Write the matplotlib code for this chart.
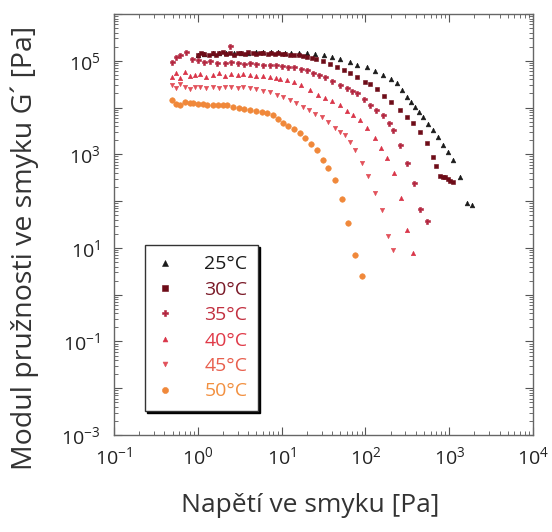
import numpy as np
import matplotlib
matplotlib.use('Agg')
import matplotlib.pyplot as plt
from matplotlib.ticker import FixedLocator, FixedFormatter, LogLocator, NullFormatter

plt.rcParams['font.family'] = ['Open Sans', 'DejaVu Sans']
plt.rcParams['mathtext.fontset'] = 'custom'
plt.rcParams['mathtext.rm'] = 'Open Sans'
plt.rcParams['mathtext.it'] = 'Open Sans'

# 25 °C
x25 = [1.0, 1.2, 1.5, 1.8, 2.2, 2.7, 3.3, 4.0, 5.0, 6.0, 7.5, 9.0, 11, 13, 16, 20, 25, 32, 40, 50,
       65, 80, 104, 130, 162, 200, 238, 275, 313, 350, 391, 440, 487, 560, 641, 740, 844, 960,
       1110, 1345, 1630, 1870]
y25 = [1.3e5, 1.4e5, 1.45e5, 1.45e5, 1.5e5, 1.5e5, 1.5e5, 1.5e5, 1.55e5, 1.55e5, 1.55e5, 1.55e5,
       1.5e5, 1.5e5, 1.5e5, 1.45e5, 1.4e5, 1.3e5, 1.2e5, 1.07e5, 9.3e4, 8.3e4, 7.3e4, 6.0e4, 4.9e4,
       4.0e4, 3.3e4, 2.4e4, 1.67e4, 1.3e4, 1.02e4, 8.0e3, 6.2e3, 4.5e3, 3.3e3, 2.3e3, 1.57e3,
       1.1e3, 752, 326, 91, 82]

# 30 °C
x30 = [1.0, 1.1, 1.2, 1.35, 1.5, 1.65, 1.8, 2.0, 2.2, 2.45, 2.7, 3.0, 3.3, 3.7, 4.0, 4.5, 5.0,
       5.5, 6.0, 6.8, 7.5, 8.3, 9.0, 10, 11, 12.5, 14, 16, 18, 20, 23, 26, 31, 38, 46, 55, 65,
       80, 100, 113, 137, 165, 200, 259, 310, 370, 449, 543, 641, 700, 777, 840, 891, 960,
       1030, 1110]
y30 = [1.3e5, 1.45e5, 1.4e5, 1.3e5, 1.5e5, 1.35e5, 1.45e5, 1.55e5, 1.4e5, 1.5e5, 1.35e5, 1.45e5,
       1.5e5, 1.4e5, 1.55e5, 1.45e5, 1.4e5, 1.5e5, 1.45e5, 1.4e5, 1.5e5, 1.4e5, 1.45e5, 1.4e5,
       1.4e5, 1.35e5, 1.3e5, 1.3e5, 1.25e5, 1.2e5, 1.15e5, 1.1e5, 9.8e4, 8.5e4, 7.2e4, 6.2e4,
       5.4e4, 4.5e4, 3.6e4, 3.2e4, 2.5e4, 1.8e4, 1.3e4, 8.8e3, 6.3e3, 4.6e3, 2.98e3, 1.73e3,
       871, 560, 342, 330, 326, 290, 270, 255]

# 35 °C
x35 = [0.49, 0.55, 0.61, 0.72, 0.85, 1.0, 1.2, 1.4, 1.7, 2.1, 2.4, 2.5, 3.0, 3.6, 4.2, 5.0, 6.0,
       7.2, 8.5, 10, 12, 14, 17, 20, 24, 28, 33, 40, 50, 60, 70, 80, 95, 113, 135, 162, 190, 213,
       259, 313, 380, 449, 543]
y35 = [9.3e4, 1.2e5, 1.32e5, 1.53e5, 1.1e5, 1.03e5, 9.5e4, 1.0e5, 9.0e4, 8.9e4, 2.1e5, 9.2e4,
       8.9e4, 8.6e4, 8.9e4, 8.5e4, 8.3e4, 8.2e4, 8.0e4, 7.9e4, 7.5e4, 7.2e4, 6.8e4, 6.2e4, 5.6e4,
       5.0e4, 4.4e4, 3.7e4, 3.0e4, 2.6e4, 2.3e4, 2.0e4, 1.5e4, 1.12e4, 8.8e3, 6.9e3, 4.6e3, 3.3e3,
       1.57e3, 650, 243, 67, 37]

# 40 °C
x40 = [0.49, 0.55, 0.61, 0.7, 0.8, 0.92, 1.06, 1.25, 1.5, 1.8, 2.1, 2.5, 3.0, 3.5, 4.2, 5, 6,
       7.2, 8.5, 9.6, 11.5, 14, 17, 21.8, 27, 33, 40, 50, 60, 72, 86, 105, 130, 155, 181, 219,
       266, 313, 370]
y40 = [4.5e4, 5.5e4, 4.2e4, 5.8e4, 4.8e4, 5.0e4, 5.2e4, 4.6e4, 5.0e4, 5.5e4, 4.8e4, 5.2e4,
       5.0e4, 5.2e4, 4.9e4, 4.8e4, 4.7e4, 4.5e4, 4.3e4, 4.1e4, 3.85e4, 3.5e4, 3.0e4, 2.36e4,
       1.9e4, 1.6e4, 1.35e4, 1.12e4, 8.5e3, 7.0e3, 5.4e3, 3.6e3, 2.2e3, 1.35e3, 830, 396, 116,
       24, 7.7]

# 45 °C
x45 = [0.49, 0.55, 0.61, 0.7, 0.8, 0.92, 1.06, 1.25, 1.5, 1.8, 2.1, 2.5, 3.0, 3.5, 4.2, 5, 6,
       7.3, 8.8, 10.5, 12.6, 15, 18, 21, 25, 30, 36, 43, 50, 57, 66, 75, 91, 107, 130, 158, 186,
       213]
y45 = [3.0e4, 2.6e4, 3.2e4, 2.8e4, 2.5e4, 2.8e4, 2.7e4, 2.6e4, 2.8e4, 2.6e4, 2.7e4, 2.7e4,
       2.6e4, 2.7e4, 2.6e4, 2.5e4, 2.3e4, 2.13e4, 1.9e4, 1.65e4, 1.44e4, 1.25e4, 1.05e4, 8.8e3,
       7.4e3, 6.2e3, 4.8e3, 3.7e3, 3.0e3, 2.57e3, 1.8e3, 1.23e3, 650, 342, 148, 64, 17.9, 9.0]

# 50 °C
x50 = [0.49, 0.55, 0.61, 0.7, 0.8, 0.88, 1.0, 1.15, 1.3, 1.5, 1.75, 2.0, 2.23, 2.63, 3.1, 3.6,
       4.2, 5.0, 5.8, 6.7, 7.8, 9.0, 10.4, 12, 14, 16.6, 19, 22.5, 26.4, 31, 36, 43.4, 52.6, 62,
       75, 91]
y50 = [1.44e4, 1.2e4, 1.12e4, 1.3e4, 1.25e4, 1.24e4, 1.2e4, 1.18e4, 1.15e4, 1.15e4, 1.12e4,
       1.12e4, 1.12e4, 1.02e4, 1.0e4, 9.5e3, 9.0e3, 8.5e3, 8.0e3, 7.6e3, 6.8e3, 5.8e3, 4.6e3,
       4.0e3, 3.4e3, 2.84e3, 2.2e3, 1.7e3, 1.23e3, 750, 500, 281, 110, 34, 7.0, 2.5]

labels = ['25°C', '30°C', '35°C', '40°C', '45°C', '50°C']
colors = ['#1a1a1a', '#6e0c18', '#b3263f', '#d93448', '#e2505a', '#f0883a']
text_colors = ['#1a1a1a', '#7a1a28', '#c23040', '#e03a48', '#e8604e', '#f29040']
markers = ['^', 's', 'P', '^', 'v', 'o']
sizes = [3.4, 3.4, 3.6, 3.2, 3.2, 4.0]

fig = plt.figure(figsize=(5.52, 5.32), dpi=100)
ax = fig.add_axes([0.2065, 0.1823, 0.7591, 0.7914])

series = [(x25, y25), (x30, y30), (x35, y35), (x40, y40), (x45, y45), (x50, y50)]
for (xs, ys), lab, c, m, s in zip(series, labels, colors, markers, sizes):
    ax.plot(xs, ys, linestyle='none', marker=m, markersize=s, color=c,
            markeredgewidth=0.4, label=lab)

ax.set_xscale('log')
ax.set_yscale('log')
ax.set_xlim(0.1, 1e4)
ax.set_ylim(1e-3, 1e6)

ax.xaxis.set_major_locator(FixedLocator([1e-1, 1, 1e1, 1e2, 1e3, 1e4]))
ax.xaxis.set_major_formatter(FixedFormatter(['$10^{-1}$', '$10^{0}$', '$10^{1}$',
                                             '$10^{2}$', '$10^{3}$', '$10^{4}$']))
ax.yaxis.set_major_locator(FixedLocator([1e-3, 1e-2, 1e-1, 1, 1e1, 1e2, 1e3, 1e4, 1e5, 1e6]))
ax.yaxis.set_major_formatter(FixedFormatter(['$10^{-3}$', '', '$10^{-1}$', '', '$10^{1}$', '',
                                             '$10^{3}$', '', '$10^{5}$', '']))
ax.xaxis.set_minor_locator(LogLocator(base=10, subs=np.arange(2, 10)))
ax.yaxis.set_minor_locator(LogLocator(base=10, subs=np.arange(2, 10)))
ax.xaxis.set_minor_formatter(NullFormatter())
ax.yaxis.set_minor_formatter(NullFormatter())

ax.tick_params(which='both', direction='in', top=True, right=True, colors='#555555',
               labelcolor='#222222')
ax.tick_params(which='major', length=6, width=0.8, labelsize=14)
ax.tick_params(axis='x', which='major', pad=8)
ax.tick_params(axis='y', which='major', pad=10)
ax.tick_params(which='minor', length=3, width=0.6)
for sp in ax.spines.values():
    sp.set_color('#666666')
    sp.set_linewidth(1.0)

ax.set_xlabel('Napětí ve smyku [Pa]', fontsize=19, color='#333333')
ax.set_ylabel('Modul pružnosti ve smyku G´ [Pa]', fontsize=20.5, color='#333333')
ax.xaxis.set_label_coords(0.468, -0.138)
ax.yaxis.set_label_coords(-0.18, 0.444)

leg = ax.legend(loc='lower left', bbox_to_anchor=(0.074, 0.057), fancybox=False,
                shadow={'color': 'black', 'alpha': 1.0, 'ox': 1.5, 'oy': -1.5},
                edgecolor='#333333', framealpha=1, fontsize=14, markerscale=1.1,
                handlelength=1.0, handletextpad=1.5, borderpad=0.55, labelspacing=0.38,
                borderaxespad=0)
for t, c in zip(leg.get_texts(), text_colors):
    t.set_color(c)

fig.savefig('out.png', dpi=100)
